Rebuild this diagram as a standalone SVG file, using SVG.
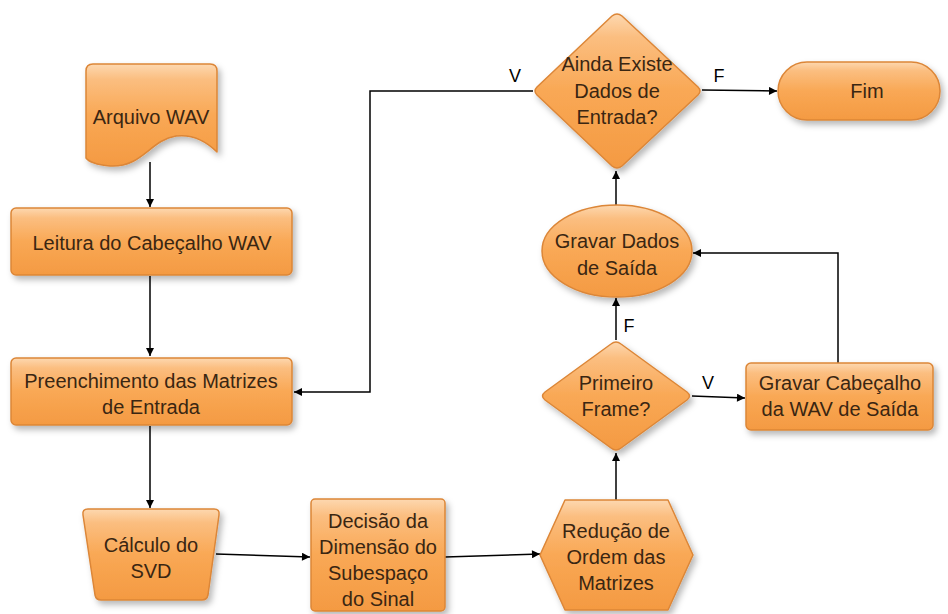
<svg xmlns="http://www.w3.org/2000/svg" width="948" height="614" viewBox="0 0 948 614">
<defs>
  <linearGradient id="g" x1="0" y1="0" x2="0" y2="1">
    <stop offset="0" stop-color="#fdd8b0"/>
    <stop offset="0.15" stop-color="#fbbe80"/>
    <stop offset="0.5" stop-color="#f9a855"/>
    <stop offset="1" stop-color="#f49a42"/>
  </linearGradient>
  <filter id="sh" x="-20%" y="-20%" width="150%" height="150%">
    <feDropShadow dx="3" dy="4" stdDeviation="3" flood-color="#000" flood-opacity="0.28"/>
  </filter>
  <marker id="ah" viewBox="0 0 10 10" refX="10" refY="5" markerWidth="9" markerHeight="8" markerUnits="userSpaceOnUse" orient="auto">
    <path d="M0,0 L10,5 L0,10 Z" fill="#000"/>
  </marker>
  <style>
    .n{fill:url(#g);stroke:#dc8637;stroke-width:1.5;stroke-linejoin:round;filter:url(#sh)}
    .t{font-family:"Liberation Sans",Arial,sans-serif;font-size:20px;fill:#3a2612;text-anchor:middle}
    .c{fill:none;stroke:#000;stroke-width:1.5;marker-end:url(#ah)}
    .l{font-family:"Liberation Sans",Arial,sans-serif;font-size:18px;fill:#000;text-anchor:middle}
  </style>
</defs>
<rect width="948" height="614" fill="#fff"/>

<g id="connectors">
  <line class="c" x1="150" y1="162" x2="150" y2="207"/>
  <line class="c" x1="150" y1="276" x2="150" y2="356"/>
  <line class="c" x1="150" y1="426" x2="150" y2="508"/>
  <line class="c" x1="216" y1="554" x2="310" y2="557"/>
  <line class="c" x1="445" y1="557" x2="540" y2="554"/>
  <line class="c" x1="616" y1="500" x2="616" y2="453"/>
  <line class="c" x1="616" y1="340" x2="616" y2="298"/>
  <line class="c" x1="692" y1="396" x2="745" y2="398"/>
  <polyline class="c" points="838,363 838,253 693,253"/>
  <line class="c" x1="616" y1="205" x2="616" y2="171"/>
  <line class="c" x1="702" y1="90" x2="777" y2="91"/>
  <polyline class="c" points="533,91 370,91 370,392 294,392"/>
  <text class="l" x="629" y="332">F</text>
  <text class="l" x="708" y="389">V</text>
  <text class="l" x="719" y="82">F</text>
  <text class="l" x="515" y="82">V</text>
</g>

<g id="arquivo">
  <path class="n" d="M86,71 Q86,64 93,64 L210,64 Q217,64 217,71 L217,152 C206,141 192,134 176,136 C150,140 142,168 110,166 C96,165 88,161 86,158 Z"/>
  <text class="t" x="151" y="124">Arquivo WAV</text>
</g>

<g id="leitura">
  <rect class="n" x="11" y="208" width="281" height="67" rx="5"/>
  <text class="t" x="152" y="250">Leitura do Cabeçalho WAV</text>
</g>

<g id="preenchimento">
  <rect class="n" x="11" y="358" width="281" height="67" rx="5"/>
  <text class="t" x="151" y="388">Preenchimento das Matrizes</text>
  <text class="t" x="151" y="414">de Entrada</text>
</g>

<g id="calculo">
  <path class="n" d="M88,509 L214,509 Q220,509 219,515 L208,595 Q207,600 202,600 L101,600 Q96,600 95,595 L83,515 Q82,509 88,509 Z"/>
  <text class="t" x="151" y="552">Cálculo do</text>
  <text class="t" x="151" y="578">SVD</text>
</g>

<g id="decisao">
  <rect class="n" x="311" y="499" width="134" height="112" rx="4"/>
  <text class="t" x="378" y="528">Decisão da</text>
  <text class="t" x="378" y="554">Dimensão do</text>
  <text class="t" x="378" y="580">Subespaço</text>
  <text class="t" x="378" y="606">do Sinal</text>
</g>

<g id="reducao">
  <path class="n" d="M540,555 L565,500 L668,500 L693,555 L668,610 L565,610 Z"/>
  <text class="t" x="616" y="538">Redução de</text>
  <text class="t" x="616" y="564">Ordem das</text>
  <text class="t" x="616" y="590">Matrizes</text>
</g>

<g id="primeiro">
  <path class="n" d="M611,344 Q616,340 621,344 L687,392 Q692,396 687,400 L621,448 Q616,452 611,448 L545,400 Q540,396 545,392 Z"/>
  <text class="t" x="616" y="390">Primeiro</text>
  <text class="t" x="616" y="416">Frame?</text>
</g>

<g id="cabecalho">
  <rect class="n" x="746" y="363" width="187" height="67" rx="5"/>
  <text class="t" x="840" y="390">Gravar Cabeçalho</text>
  <text class="t" x="840" y="416">da WAV de Saída</text>
</g>

<g id="gravar">
  <ellipse class="n" cx="617" cy="251" rx="75" ry="46"/>
  <text class="t" x="617" y="248">Gravar Dados</text>
  <text class="t" x="617" y="275">de Saída</text>
</g>

<g id="ainda">
  <path class="n" d="M612,16 Q617,12 622,16 L698,87 Q702,91 698,95 L622,166 Q617,170 612,166 L537,95 Q533,91 537,87 Z"/>
  <text class="t" x="617" y="71">Ainda Existe</text>
  <text class="t" x="617" y="98">Dados de</text>
  <text class="t" x="617" y="124">Entrada?</text>
</g>

<g id="fim">
  <rect class="n" x="778" y="62" width="162" height="58" rx="29"/>
  <text class="t" x="867" y="98">Fim</text>
</g>
</svg>
